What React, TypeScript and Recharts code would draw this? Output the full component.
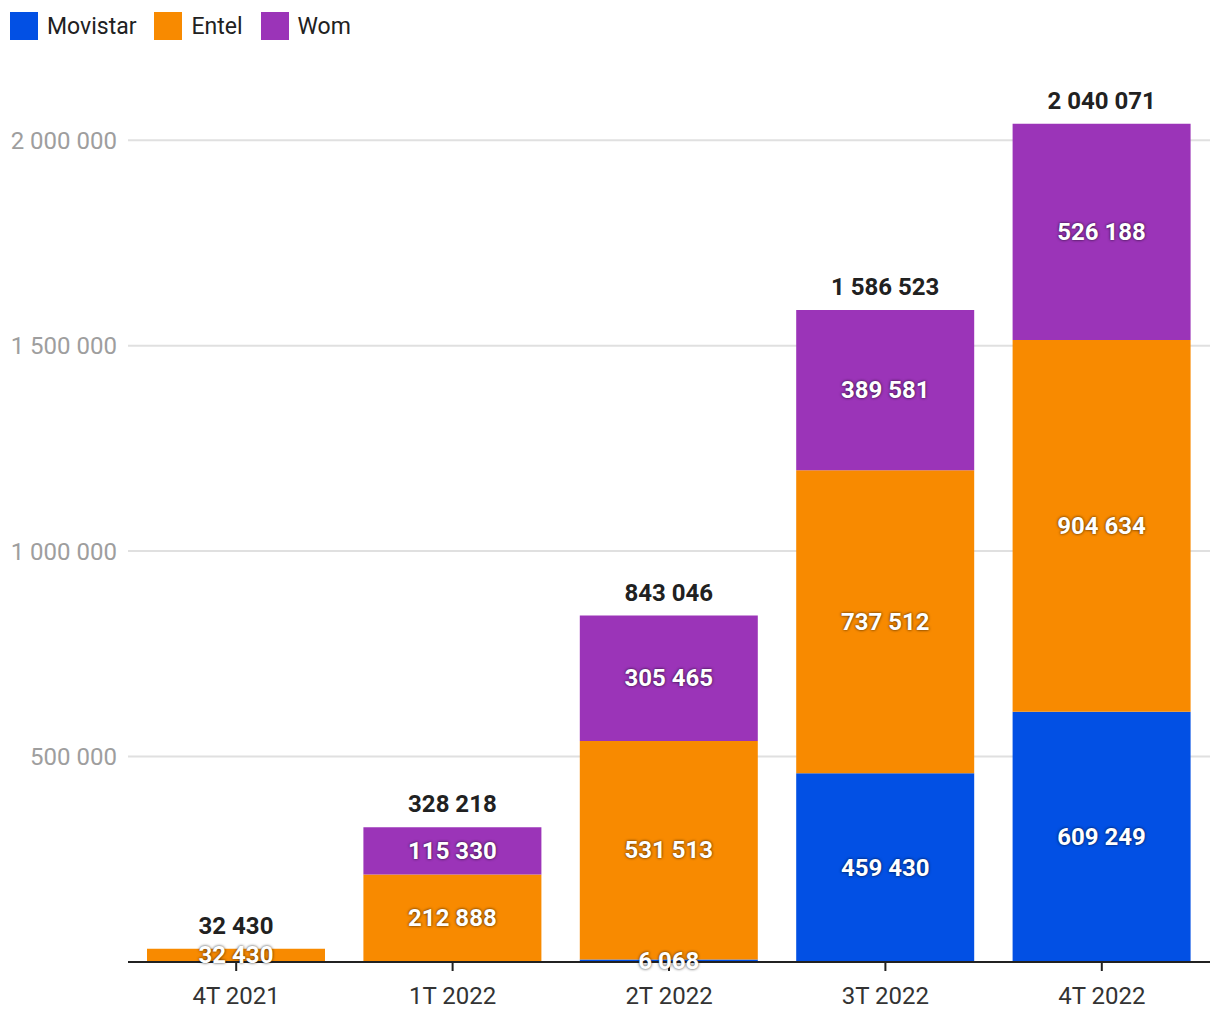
import React from 'react';
import { BarChart, Bar, XAxis, YAxis, CartesianGrid, LabelList } from 'recharts';

const quarters = ['4T 2021', '1T 2022', '2T 2022', '3T 2022', '4T 2022'];
const movistar = [0, 0, 6068, 459430, 609249];
const entel = [32430, 212888, 531513, 737512, 904634];
const wom = [0, 115330, 305465, 389581, 526188];
const yTicks = [500000, 1000000, 1500000, 2000000];

const series = [
  { key: 'movistar', name: 'Movistar', color: '#0250E4' },
  { key: 'entel', name: 'Entel', color: '#F88A00' },
  { key: 'wom', name: 'Wom', color: '#9B34B8' },
];

const data = quarters.map((q, i) => ({
  quarter: q,
  movistar: movistar[i],
  entel: entel[i],
  wom: wom[i],
  total: movistar[i] + entel[i] + wom[i],
}));

const fmt = (v: number) => String(v).replace(/\B(?=(\d{3})+(?!\d))/g, ' ');

const FONT = 'Roboto, sans-serif';

// the total goes on the highest segment that is not empty
const topValue = (key: string) => (d: any) => {
  const idx = series.findIndex((s) => s.key === key);
  const above = series.slice(idx + 1).some((s) => d[s.key] > 0);
  return !above && d[key] > 0 ? d.total : null;
};

function SegmentLabel(props: any) {
  const { x, y, width, height, value } = props;
  if (!value) return null;
  return (
    <text
      x={x + width / 2}
      y={y + height / 2}
      textAnchor="middle"
      dominantBaseline="central"
      fill="#fff"
      fontSize={24}
      fontWeight="bold"
      fontFamily={FONT}
      style={{ textShadow: '0 0 3px rgba(0,0,0,0.8)' }}
    >
      {fmt(value)}
    </text>
  );
}

function TotalLabel(props: any) {
  const { x, y, width, value } = props;
  if (value == null) return null;
  return (
    <text
      x={x + width / 2}
      y={y - 23}
      textAnchor="middle"
      dominantBaseline="central"
      fill="#212121"
      fontSize={24}
      fontWeight="bold"
      fontFamily={FONT}
    >
      {fmt(value)}
    </text>
  );
}

export default function App() {
  return (
    <div style={{ position: 'absolute', left: 0, top: 0, width: 1220, height: 1020, background: '#fff', fontFamily: FONT }}>
      <div style={{ position: 'absolute', left: 10, top: 12, display: 'flex', alignItems: 'center' }}>
        {series.map((s) => (
          <div key={s.key} style={{ display: 'flex', alignItems: 'center', marginRight: 18 }}>
            <span style={{ width: 28, height: 28, background: s.color, display: 'inline-block', marginRight: 9 }} />
            <span style={{ fontSize: 23, color: '#212121' }}>{s.name}</span>
          </div>
        ))}
      </div>
      <BarChart
        width={1220}
        height={1020}
        data={data}
        margin={{ top: 58, right: 10, bottom: 0, left: 0 }}
        barSize={178}
      >
        <CartesianGrid vertical={false} horizontalValues={yTicks} stroke="#e0e0e0" strokeWidth={2} />
        <XAxis
          dataKey="quarter"
          height={58}
          tickSize={9}
          tickMargin={16}
          stroke="#212121"
          strokeWidth={2}
          tick={{ fill: '#333', fontSize: 24, fontFamily: FONT }}
        />
        <YAxis
          width={128}
          domain={[0, 2200000]}
          ticks={yTicks}
          axisLine={false}
          tickLine={false}
          tickSize={0}
          tickMargin={11}
          tickFormatter={fmt}
          tick={{ fill: '#9e9e9e', fontSize: 24, fontFamily: FONT }}
        />
        {series.map((s) => (
          <Bar key={s.key} dataKey={s.key} name={s.name} stackId="a" fill={s.color} isAnimationActive={false}>
            <LabelList dataKey={s.key} content={SegmentLabel} />
            <LabelList dataKey={topValue(s.key)} content={TotalLabel} />
          </Bar>
        ))}
      </BarChart>
    </div>
  );
}
